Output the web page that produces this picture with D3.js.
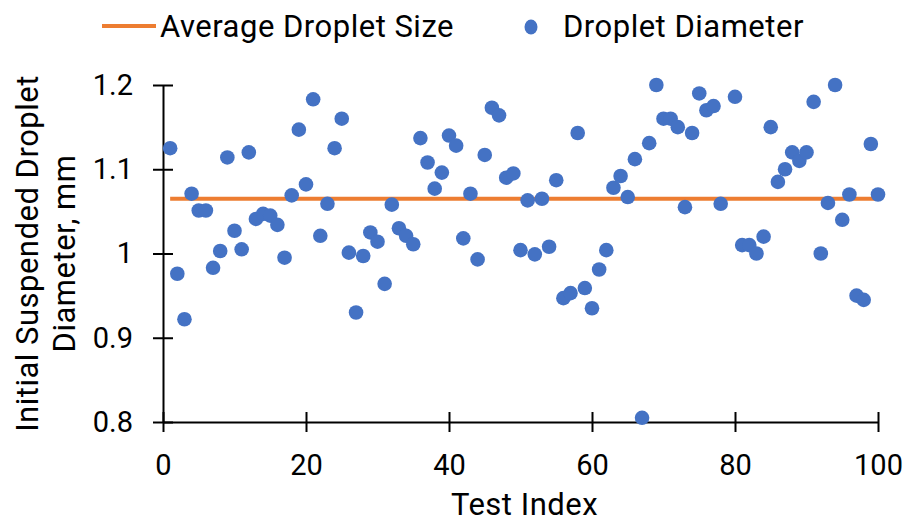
<!DOCTYPE html>
<html>
<head>
<meta charset="utf-8">
<script src="https://cdn.jsdelivr.net/npm/d3@7"></script>
<style>
	html, body { margin: 0; padding: 0; background: #fff; }
	svg text { font-family: Roboto, "Liberation Sans", sans-serif; fill: #000; }
</style>
</head>
<body>
<div id="chart"></div>
<script>
// test index 1..100, diameter in mm (index 79 has no point)
const diameters = [
	1.125, 0.976, 0.922, 1.071, 1.051, 1.051, 0.983, 1.003, 1.114, 1.027,
	1.005, 1.120, 1.041, 1.047, 1.045, 1.034, 0.995, 1.069, 1.147, 1.082,
	1.183, 1.021, 1.059, 1.125, 1.160, 1.001, 0.930, 0.997, 1.025, 1.014,
	0.964, 1.058, 1.030, 1.021, 1.011, 1.137, 1.108, 1.077, 1.096, 1.140,
	1.128, 1.018, 1.071, 0.993, 1.117, 1.173, 1.164, 1.090, 1.095, 1.004,
	1.063, 0.999, 1.065, 1.008, 1.087, 0.947, 0.953, 1.143, 0.959, 0.935,
	0.981, 1.004, 1.078, 1.092, 1.067, 1.112, 0.805, 1.131, 1.200, 1.160,
	1.160, 1.150, 1.055, 1.143, 1.190, 1.170, 1.175, 1.059, null, 1.186,
	1.010, 1.010, 1.000, 1.020, 1.150, 1.085, 1.100, 1.120, 1.110, 1.120,
	1.180, 1.000, 1.060, 1.200, 1.040, 1.070, 0.950, 0.945, 1.130, 1.070
];
const averageSize = 1.065;
const averageRange = [1, 100];
const xTicks = [0, 20, 40, 60, 80, 100];
const yTicks = [0.8, 0.9, 1.0, 1.1, 1.2];
const seriesNames = ['Average Droplet Size', 'Droplet Diameter'];

const width = 905, height = 522;
const margins = { left: 163, right: 27, top: 85, bottom: 100 };
const blue = '#4472C4', orange = '#ED7D31';
const titleSize = 31, tickSize = 29;

const svg = d3.select('#chart').append('svg')
	.attr('width', width)
	.attr('height', height);

const x = d3.scaleLinear()
	.domain([0, 100])
	.range([margins.left, width - margins.right]);
const y = d3.scaleLinear()
	.domain([0.8, 1.2])
	.range([height - margins.bottom, margins.top]);

const points = diameters
	.map((d, i) => ({ index: i + 1, value: d }))
	.filter(d => d.value !== null);

// axes, ticks cross the line
const xAxis = svg.append('g')
	.attr('transform', 'translate(0,' + y(0.8) + ')')
	.call(d3.axisBottom(x).tickValues(xTicks).tickSizeOuter(0).tickFormat(d3.format('d')));
xAxis.selectAll('.tick line').attr('y1', -10).attr('y2', 10);
xAxis.selectAll('.tick text').attr('y', 32).attr('dy', '0.71em');

const yAxis = svg.append('g')
	.attr('transform', 'translate(' + x(0) + ',0)')
	.call(d3.axisLeft(y).tickValues(yTicks).tickSizeOuter(0).tickFormat(d => d === 1 ? '1' : d3.format('.1f')(d)));
yAxis.selectAll('.tick line').attr('x1', -10).attr('x2', 10);
yAxis.selectAll('.tick text').attr('x', -30);

svg.selectAll('.domain, .tick line')
	.attr('stroke', '#000')
	.attr('stroke-width', 2);
svg.selectAll('.tick text')
	.attr('font-size', tickSize)
	.attr('font-family', null);

// average line
svg.append('line')
	.attr('x1', x(averageRange[0]))
	.attr('x2', x(averageRange[1]))
	.attr('y1', y(averageSize))
	.attr('y2', y(averageSize))
	.attr('stroke', orange)
	.attr('stroke-width', 4);

// droplets
svg.append('g').selectAll('circle')
	.data(points)
	.join('circle')
	.attr('cx', d => x(d.index))
	.attr('cy', d => y(d.value))
	.attr('r', 7.3)
	.attr('fill', blue);

// axis titles
svg.append('text')
	.attr('x', (x(0) + x(100)) / 2 + 4)
	.attr('y', 515)
	.attr('text-anchor', 'middle')
	.attr('font-size', titleSize)
	.attr('letter-spacing', 0.5)
	.text('Test Index');

const yTitle = svg.append('text')
	.attr('transform', 'translate(0,' + ((y(0.8) + y(1.2)) / 2) + ') rotate(-90)')
	.attr('text-anchor', 'middle')
	.attr('font-size', titleSize)
	.attr('letter-spacing', 0.5);
yTitle.append('tspan').attr('x', 0).attr('y', 38).text('Initial Suspended Droplet');
yTitle.append('tspan').attr('x', 0).attr('y', 75).text('Diameter, mm');

// legend
const legend = svg.append('g');
legend.append('line')
	.attr('x1', 102).attr('x2', 156)
	.attr('y1', 26).attr('y2', 26)
	.attr('stroke', orange)
	.attr('stroke-width', 4);
legend.append('text')
	.attr('x', 160).attr('y', 37)
	.attr('font-size', titleSize)
	.attr('letter-spacing', 0.5)
	.text(seriesNames[0]);
legend.append('ellipse')
	.attr('cx', 531).attr('cy', 27)
	.attr('rx', 6.5).attr('ry', 7.5)
	.attr('fill', blue);
legend.append('text')
	.attr('x', 563).attr('y', 37)
	.attr('font-size', titleSize)
	.attr('letter-spacing', 0.5)
	.text(seriesNames[1]);
</script>
</body>
</html>
